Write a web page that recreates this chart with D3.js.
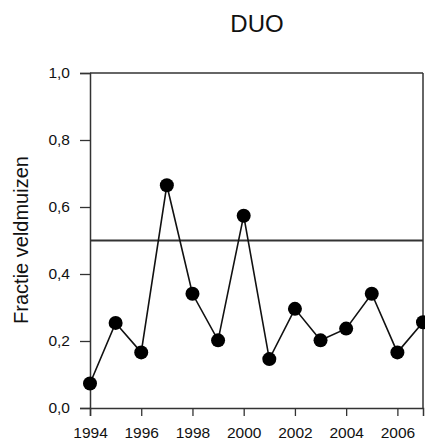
<!DOCTYPE html>
<html>
<head>
<meta charset="utf-8">
<script src="https://cdn.jsdelivr.net/npm/d3@7"></script>
<style>
  body { margin: 0; background: #fff; }
  text { font-family: "Liberation Sans", Arial, sans-serif; fill: #111; }
</style>
</head>
<body>
<div id="chart"></div>
<script>
// Data
const years = [1994, 1995, 1996, 1997, 1998, 1999, 2000, 2001, 2002, 2003, 2004, 2005, 2006, 2007];
const fractions = [0.073, 0.254, 0.166, 0.665, 0.341, 0.202, 0.574, 0.146, 0.296, 0.202, 0.237, 0.341, 0.166, 0.256];
const xTicks = [1994, 1996, 1998, 2000, 2002, 2004, 2006];
const yTicks = [0, 0.2, 0.4, 0.6, 0.8, 1.0];
const refLevel = 0.5;

const W = 425, H = 443;
const margin = {top: 73, right: 2, bottom: 35, left: 90};
const width = W - margin.left - margin.right;
const height = H - margin.top - margin.bottom;

const svg = d3.select("#chart")
  .append("svg")
    .attr("width", W)
    .attr("height", H);

const g = svg.append("g")
  .attr("transform", `translate(${margin.left},${margin.top})`);

const x = d3.scaleLinear().domain([1994, 2007]).range([0, width]);
const y = d3.scaleLinear().domain([0, 1]).range([height, 0]);

// Title
svg.append("text")
  .attr("x", 257)
  .attr("y", 32)
  .attr("text-anchor", "middle")
  .style("font-size", "24px")
  .text("DUO");

// Y axis label
svg.append("text")
  .attr("transform", `translate(28,240) rotate(-90)`)
  .attr("text-anchor", "middle")
  .style("font-size", "20px")
  .text("Fractie veldmuizen");

// Axes
const fmt = d3.format(".1f");
const yAxis = g.append("g")
  .call(d3.axisLeft(y).tickValues(yTicks).tickSize(10).tickPadding(10)
    .tickFormat(d => fmt(d).replace(".", ",")));
const xAxis = g.append("g")
  .attr("transform", `translate(0,${height})`)
  .call(d3.axisBottom(x).tickValues(xTicks).tickSize(8).tickPadding(11)
    .tickFormat(d3.format("d")));

[yAxis, xAxis].forEach(a => {
  a.select(".domain").attr("stroke", "#333").attr("stroke-width", 1.5);
  a.selectAll(".tick line").attr("stroke", "#333").attr("stroke-width", 1.3);
  a.selectAll("text").style("font-size", "15.5px").style("font-family", "Liberation Sans, Arial, sans-serif").attr("fill", "#111");
});

// Top and right border of the box
g.append("line")
  .attr("x1", 0).attr("x2", width)
  .attr("y1", y(1)).attr("y2", y(1))
  .attr("stroke", "#333").attr("stroke-width", 1.5);
g.append("line")
  .attr("x1", width).attr("x2", width)
  .attr("y1", y(1)).attr("y2", height)
  .attr("stroke", "#333").attr("stroke-width", 1.5);

// Reference line at 0.5
g.append("line")
  .attr("x1", 0).attr("x2", width)
  .attr("y1", y(refLevel)).attr("y2", y(refLevel))
  .attr("stroke", "#333").attr("stroke-width", 2);

const data = years.map((yr, i) => ({year: yr, value: fractions[i]}));

// Line
g.append("path")
  .datum(data)
  .attr("fill", "none")
  .attr("stroke", "#111")
  .attr("stroke-width", 1.6)
  .attr("d", d3.line().x(d => x(d.year)).y(d => y(d.value)));

// Points
g.selectAll("circle")
  .data(data)
  .enter()
  .append("circle")
    .attr("cx", d => x(d.year))
    .attr("cy", d => y(d.value))
    .attr("r", 7)
    .attr("fill", "#000");
</script>
</body>
</html>
